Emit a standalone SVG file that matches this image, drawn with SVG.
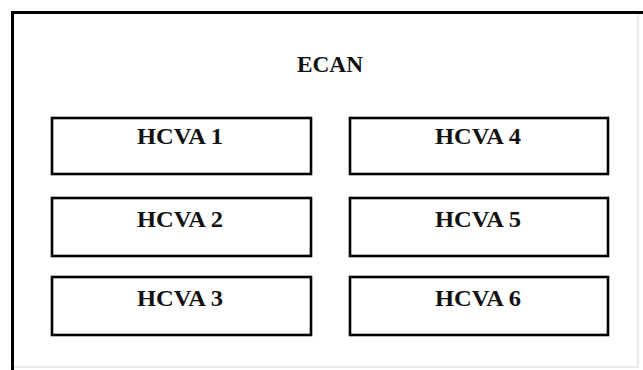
<svg xmlns="http://www.w3.org/2000/svg" width="643" height="370" viewBox="0 0 643 370">
<style>
.box{fill:#fff;stroke:#000;stroke-width:2.6}
.lbl{font-family:"Liberation Serif","Times New Roman",serif;font-weight:bold;font-size:24px;fill:#111;text-anchor:middle}
</style>
<rect width="643" height="370" fill="#fff"/>
<g id="ecan">
<path d="M638,13.5 V367 H12.5" fill="none" stroke="#e4e4e4" stroke-width="1.5"/>
<path d="M12.5,370 V12.5 H643" fill="none" stroke="#000" stroke-width="3"/>
<text class="lbl" x="330" y="72" textLength="66" lengthAdjust="spacingAndGlyphs">ECAN</text>
</g>
<g id="hcva1"><rect class="box" x="52" y="118" width="259" height="56"/><text class="lbl" x="180" y="144" textLength="86" lengthAdjust="spacingAndGlyphs">HCVA 1</text></g>
<g id="hcva2"><rect class="box" x="52" y="198" width="259" height="58"/><text class="lbl" x="180" y="227" textLength="86" lengthAdjust="spacingAndGlyphs">HCVA 2</text></g>
<g id="hcva3"><rect class="box" x="52" y="277" width="259" height="58"/><text class="lbl" x="180" y="306" textLength="86" lengthAdjust="spacingAndGlyphs">HCVA 3</text></g>
<g id="hcva4"><rect class="box" x="350" y="118" width="258" height="56"/><text class="lbl" x="478" y="144" textLength="86" lengthAdjust="spacingAndGlyphs">HCVA 4</text></g>
<g id="hcva5"><rect class="box" x="350" y="198" width="258" height="58"/><text class="lbl" x="478" y="227" textLength="86" lengthAdjust="spacingAndGlyphs">HCVA 5</text></g>
<g id="hcva6"><rect class="box" x="350" y="277" width="258" height="58"/><text class="lbl" x="478" y="306" textLength="86" lengthAdjust="spacingAndGlyphs">HCVA 6</text></g>
<g id="connectors"/>
</svg>
